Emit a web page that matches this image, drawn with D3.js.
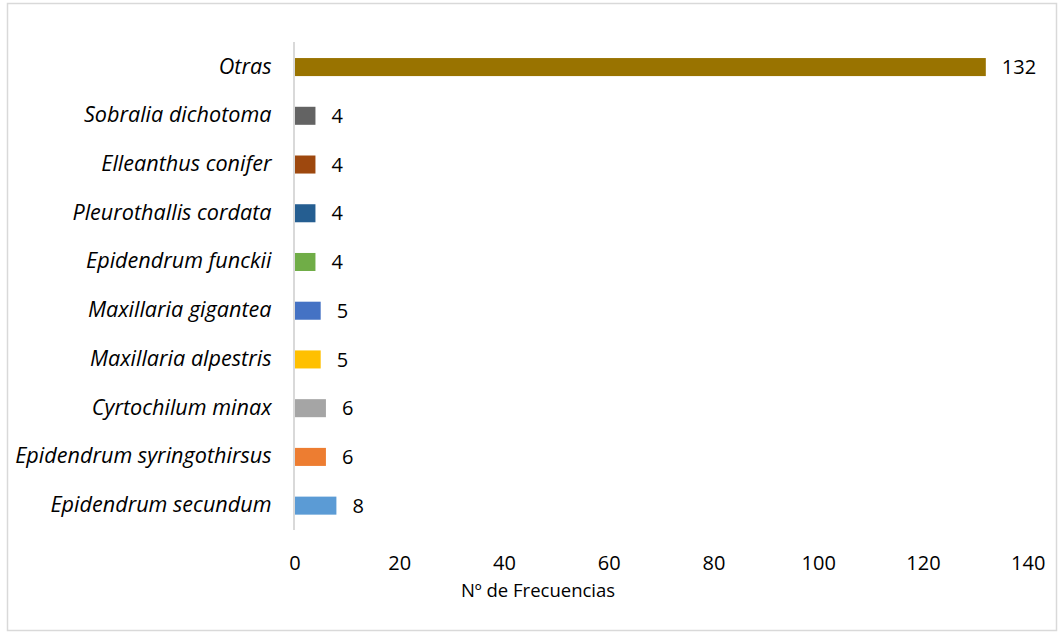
<!DOCTYPE html>
<html><head><meta charset="utf-8">
<script src="https://cdn.jsdelivr.net/npm/d3@7"></script>
<style>body{margin:0;background:#fff}svg{display:block}</style>
</head><body><svg id="c" width="1064" height="634"></svg>
<script>
const categories = ["Otras","Sobralia dichotoma","Elleanthus conifer","Pleurothallis cordata","Epidendrum funckii","Maxillaria gigantea","Maxillaria alpestris","Cyrtochilum minax","Epidendrum syringothirsus","Epidendrum secundum"];
const values = [132,4,4,4,4,5,5,6,6,8];
const colors = ["#997300","#636363","#9e480e","#255e91","#70ad47","#4472c4","#ffc000","#a5a5a5","#ed7d31","#5b9bd5"];
const xTicks = [0,20,40,60,80,100,120,140];
const xTitle = "Nº de Frecuencias";

const svg = d3.select("#c");
const font = "'Open Sans', sans-serif";
svg.append("rect").attr("x",7.5).attr("y",3.5).attr("width",1049).attr("height",627)
  .attr("fill","#fff").attr("stroke","#d9d9d9").attr("stroke-width",1.5);

const x = d3.scaleLinear().domain([0,140]).range([294.5,1027.7]);
const y = d3.scaleBand().domain(categories).range([42.7,530]).paddingInner(0.63).paddingOuter(0.315);

svg.append("g").selectAll("rect").data(categories).join("rect")
  .attr("x",x(0)).attr("y",d=>y(d)).attr("height",y.bandwidth())
  .attr("width",(d,i)=>x(values[i])-x(0)).attr("fill",(d,i)=>colors[i]);

svg.append("line").attr("x1",x(0)-0.5).attr("x2",x(0)-0.5).attr("y1",42).attr("y2",530)
  .attr("stroke","#d9d9d9").attr("stroke-width",2);

const xa = svg.append("g").attr("transform","translate(0,570)")
  .call(d3.axisBottom(x).tickValues(xTicks).tickSize(0).tickPadding(0));
xa.select(".domain").remove();
xa.selectAll("text").attr("font-family",font).attr("font-size",20).attr("fill","#000").attr("dy",0);

const ya = svg.append("g").attr("transform",`translate(${x(0)-23},0)`)
  .call(d3.axisLeft(y).tickSize(0).tickPadding(0));
ya.select(".domain").remove();
ya.selectAll("text").attr("font-family",font).attr("font-size",21.6).attr("font-style","italic").attr("fill","#000").attr("dy","0.3em");

svg.append("g").selectAll("text").data(categories).join("text")
  .attr("x",(d,i)=>x(values[i])+16).attr("y",d=>y(d)+y.bandwidth()/2).attr("dy","0.36em")
  .attr("font-family",font).attr("font-size",20).attr("fill","#000")
  .text((d,i)=>values[i]);

svg.append("text").attr("x",538).attr("y",597).attr("text-anchor","middle")
  .attr("font-family",font).attr("font-size",18.5).attr("fill","#000").text(xTitle);
</script></body></html>
